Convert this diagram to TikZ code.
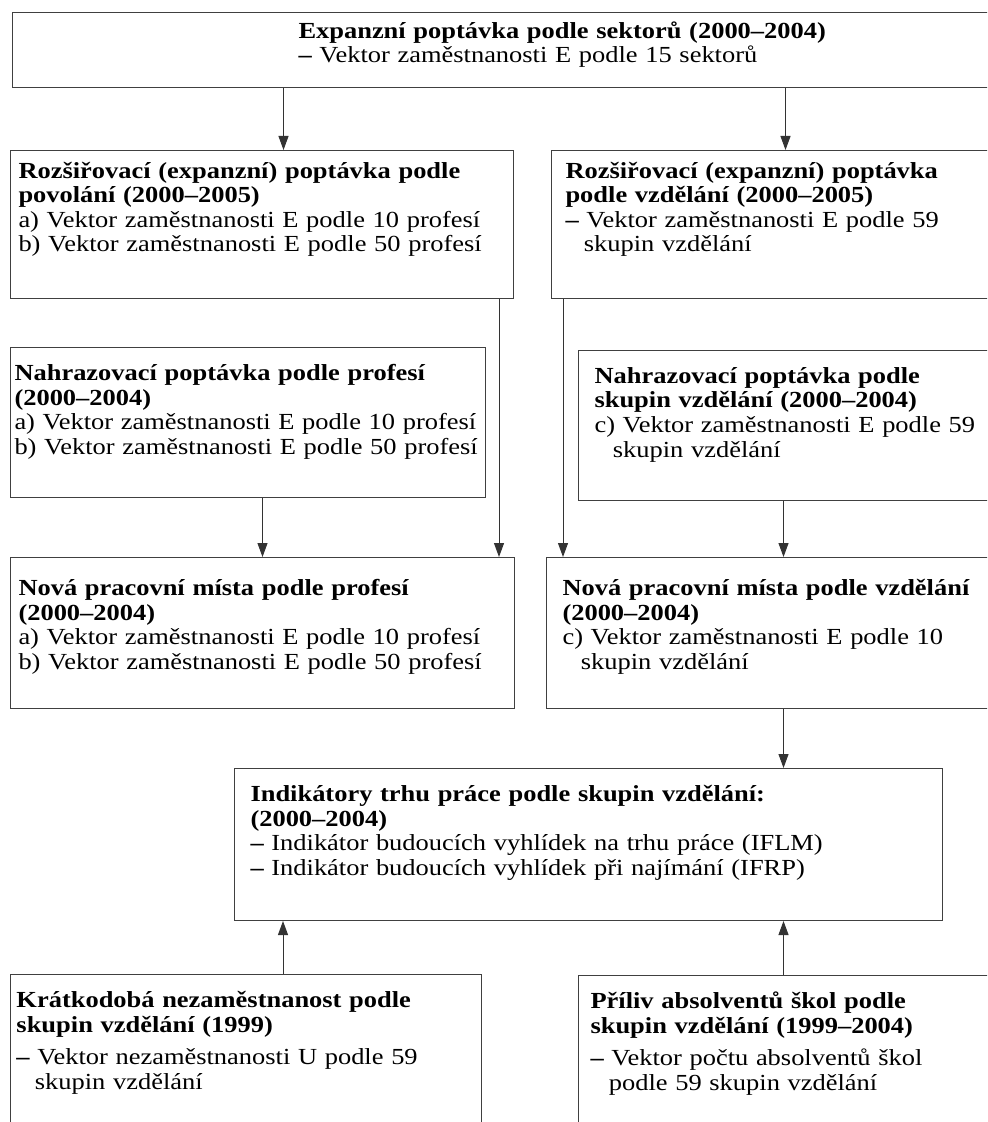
\documentclass[tikz,border=0pt]{standalone}
\usepackage{fontspec}
\setmainfont{Liberation Serif}[FakeStretch=1.15]
\usetikzlibrary{positioning,calc,arrows.meta}

\hyphenpenalty=10000
\newcommand{\pml}{\textbf{–}\ }
\newcommand{\odr}{\hspace*{0.8em}}

\begin{document}
\begin{tikzpicture}[
x=0.5pt,
y=-0.5pt,
>={Triangle[length=7pt,width=5pt]},
box/.style={
	draw=black!75,
	line width=0.5pt,
	anchor=north west,
	align=left,
	inner xsep=5pt,
	inner ysep=0pt,
	text height=16.5pt,
	font=\fontsize{11.5}{12.25}\selectfont
},
tok/.style={
	->,
	draw=black!80,
	line width=0.5pt
}
]
\useasboundingbox (0,0) rectangle (987,1122);
\clip (0,0) rectangle (987,1122);

% zdroj
\node[box,text width=489pt,text height=13pt,text depth=24.5pt] (sekt) at (12,12)
{\hspace*{138pt}\textbf{Expanzní poptávka podle sektorů (2000–2004)}\\
\hspace*{138pt}\pml Vektor zaměstnanosti E podle 15 sektorů};

% rozsirovaci poptavka
\node[box,inner xsep=4pt,text width=243.5pt,text height=14pt,text depth=60pt] (povol) at (10,150)
{\textbf{Rozšiřovací (expanzní) poptávka podle\\ povolání (2000–2005)}\\
a) Vektor zaměstnanosti E podle 10 profesí\\
b) Vektor zaměstnanosti E podle 50 profesí};
\node[box,inner xsep=7pt,text width=216pt,text height=14pt,text depth=60pt] (vzdel) at (551,150)
{\textbf{Rozšiřovací (expanzní) poptávka\\ podle vzdělání (2000–2005)}\\
\pml Vektor zaměstnanosti E podle 59\\
\odr skupin vzdělání};

% nahrazovaci poptavka
\node[box,inner xsep=2pt,text width=233.5pt,text depth=58.5pt] (nahrP) at (10,347)
{\textbf{Nahrazovací poptávka podle profesí\\ (2000–2004)}\\
a) Vektor zaměstnanosti E podle 10 profesí\\
b) Vektor zaměstnanosti E podle 50 profesí};
\node[box,inner xsep=8pt,text width=199pt,text depth=58.5pt] (nahrV) at (578,350)
{\textbf{Nahrazovací poptávka podle\\ skupin vzdělání (2000–2004)}\\
c) Vektor zaměstnanosti E podle 59\\
\odr skupin vzdělání};

% nova mista
\node[box,inner xsep=4pt,text width=244pt,text height=19pt,text depth=56.5pt] (novaP) at (10,557)
{\textbf{Nová pracovní místa podle profesí\\ (2000–2004)}\\
a) Vektor zaměstnanosti E podle 10 profesí\\
b) Vektor zaměstnanosti E podle 50 profesí};
\node[box,inner xsep=8pt,text width=214pt,text height=19pt,text depth=56.5pt] (novaV) at (546,557)
{\textbf{Nová pracovní místa podle vzdělání\\ (2000–2004)}\\
c) Vektor zaměstnanosti E podle 10\\
\odr skupin vzdělání};

% indikatory
\node[box,inner xsep=8pt,text width=338pt,text depth=59.5pt] (ind) at (234,768)
{\textbf{Indikátory trhu práce podle skupin vzdělání:\\ (2000–2004)}\\
\pml Indikátor budoucích vyhlídek na trhu práce (IFLM)\\
\pml Indikátor budoucích vyhlídek při najímání (IFRP)};

% vstupy zdola
\node[box,inner xsep=3pt,text width=229.5pt,text depth=66.5pt] (kratk) at (10,974)
{\textbf{Krátkodobá nezaměstnanost podle\\ skupin vzdělání (1999)}\\[4pt]
\pml Vektor nezaměstnanosti U podle 59\\
\odr skupin vzdělání};
\node[box,inner xsep=6pt,text width=203pt,text depth=66.5pt] (priliv) at (578,975)
{\textbf{Příliv absolventů škol podle\\ skupin vzdělání (1999–2004)}\\[4pt]
\pml Vektor počtu absolventů škol\\
\odr podle 59 skupin vzdělání};

\draw[tok] ([xshift=10.75pt]povol.north |- sekt.south) -- ([xshift=10.75pt]povol.north);
\draw[tok] ([xshift=2pt]vzdel.north |- sekt.south) -- ([xshift=2pt]vzdel.north);
\draw[tok] ([xshift=-7.5pt]povol.south east) -- ([xshift=-7.5pt]povol.south east |- novaP.north);
\draw[tok] ([xshift=6pt]vzdel.south west) -- ([xshift=6pt]vzdel.south west |- novaV.north);
\draw[tok] (nahrP.south -| novaP.north) -- (novaP.north);
\draw[tok] ([xshift=-5pt]nahrV.south) -- ([xshift=-5pt]nahrV.south |- novaV.north);
\draw[tok] ([xshift=3.5pt]novaV.south) -- ([xshift=3.5pt]novaV.south |- ind.north);
\draw[tok] ([xshift=24.5pt]ind.south west |- kratk.north) -- ([xshift=24.5pt]ind.south west);
\draw[tok] ([xshift=3.5pt]novaV.south |- priliv.north) -- ([xshift=3.5pt]novaV.south |- ind.south);
\end{tikzpicture}
\end{document}
